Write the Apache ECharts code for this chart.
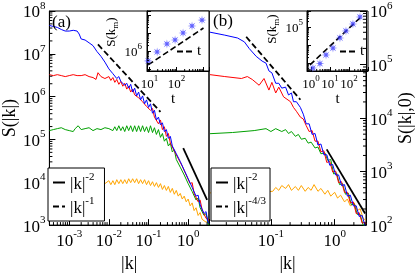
<!DOCTYPE html>
<html><head><meta charset="utf-8">
<script src="https://cdn.jsdelivr.net/npm/echarts@6/dist/echarts.min.js"></script>
<style>html,body{margin:0;padding:0;background:#fff}#c{width:416px;height:278px}</style>
</head><body><div id="c"></div>
<script>
// ---------------- data (|k|, S) ----------------
const blueA = [[3.16e-4,4.6e7],[3.98e-4,4.35e7],[5.01e-4,4.14e7],[6.31e-4,3.7e7],[7.94e-4,3.4e7],[1.0e-3,3.4e7],[1.26e-3,3.54e7],[1.58e-3,3.4e7],[1.78e-3,2.9e7],[2.0e-3,2.22e7],[2.51e-3,2.1e7],[3.16e-3,1.81e7],[3.98e-3,1.55e7],[5.01e-3,1.13e7],[6.31e-3,8.74e6],[7.94e-3,6.4e6],[0.01,4.45e6],
[0.0112,4.69e6],[0.0126,3.44e6],[0.0141,3.62e6],[0.0158,2.65e6],[0.0178,2.94e6],[0.02,2.27e6],[0.0224,2.52e6],[0.0251,1.84e6],[0.0282,2.05e6],[0.0316,1.58e6],[0.0355,1.94e6],[0.0398,1.28e6],[0.0447,1.58e6],[0.0501,1.04e6],[0.0562,1.28e6],[0.0631,8.4e5],[0.0708,1.04e6],[0.0794,6.8e5],[0.0891,8.4e5],[0.1,5.6e5],
[0.112,6.8e5],[0.126,4.1e5],[0.141,4.8e5],[0.158,2.85e5],[0.178,3.33e5],[0.2,2.2e5],[0.224,2.45e5],[0.251,1.53e5],[0.282,1.7e5],[0.316,1.06e5],[0.355,1.18e5],[0.398,7.05e4],[0.447,7.8e4],[0.501,4.65e4],[0.562,5.1e4],[0.631,3.06e4],[0.708,3.4e4],[0.794,1.92e4],[0.891,2.13e4],[1.0,1.21e4],[1.12,1.34e4],[1.26,7.6e3],[1.41,8.0e3],[1.58,4.75e3],[1.78,5.0e3],[2.0,2.97e3],[2.24,3.3e3],[2.51,1.86e3],[2.82,2.07e3],[3.16,1.17e3],[3.35,1.1e3]];
const redA = [[3.16e-4,3.26e6],[3.98e-4,3.1e6],[5.01e-4,3.26e6],[6.31e-4,3.1e6],[7.94e-4,2.94e6],[1.0e-3,3.1e6],[1.26e-3,3.26e6],[1.41e-3,3.44e6],[1.58e-3,3.1e6],[2.0e-3,3.1e6],[2.51e-3,3.26e6],[3.16e-3,2.94e6],[3.98e-3,2.79e6],[4.73e-3,2.52e6],[5.31e-3,3.62e6],[6.31e-3,2.94e6],[7.94e-3,2.65e6],[0.01,2.94e6],
[0.0112,2.39e6],[0.0126,2.79e6],[0.0141,2.16e6],[0.0158,2.52e6],[0.0178,1.94e6],[0.02,2.27e6],[0.0224,1.75e6],[0.0251,2.05e6],[0.0282,1.5e6],[0.0316,1.75e6],[0.0355,1.28e6],[0.0398,1.5e6],[0.0447,1.1e6],[0.0501,1.22e6],[0.0562,9.4e5],[0.0631,1.04e6],[0.0708,7.6e5],[0.0794,8.4e5],[0.0891,5.9e5],[0.1,6.5e5],
[0.112,4.8e5],[0.126,5.3e5],[0.141,3.33e5],[0.158,3.7e5],[0.178,2.32e5],[0.2,2.85e5],[0.224,1.7e5],[0.251,1.98e5],[0.282,1.18e5],[0.316,1.38e5],[0.355,8.2e4],[0.398,9.1e4],[0.447,5.4e4],[0.501,6.0e4],[0.562,3.58e4],[0.631,3.97e4],[0.708,2.37e4],[0.794,2.5e4],[0.891,1.48e4],[1.0,1.56e4],[1.12,9.3e3],[1.26,9.8e3],[1.41,5.5e3],[1.58,6.1e3],[1.78,3.5e3],[2.0,3.85e3],[2.24,2.3e3],[2.51,2.42e3],[2.82,1.44e3],[3.16,1.52e3],[3.35,1.3e3]];
const greenA = [[3.16e-4,1.61e5],[3.98e-4,1.7e5],[5.01e-4,1.79e5],[6.31e-4,1.88e5],[7.94e-4,1.7e5],[1.0e-3,1.61e5],[1.26e-3,1.53e5],[1.41e-3,1.79e5],[1.68e-3,2.09e5],[2.0e-3,1.7e5],[2.51e-3,1.79e5],[3.16e-3,1.88e5],[3.98e-3,1.61e5],[5.01e-3,1.79e5],[6.31e-3,1.7e5],[7.94e-3,1.88e5],[0.01,1.79e5],
[0.0112,1.98e5],[0.0126,1.61e5],[0.0141,1.98e5],[0.0158,1.61e5],[0.0178,2.09e5],[0.02,1.61e5],[0.0224,1.98e5],[0.0251,1.53e5],[0.0282,2.09e5],[0.0316,1.61e5],[0.0355,2.09e5],[0.0398,1.53e5],[0.0447,2.09e5],[0.0501,1.53e5],[0.0562,2.09e5],[0.0631,1.53e5],[0.0708,2.09e5],[0.0794,1.53e5],[0.0891,1.98e5],[0.1,1.45e5],
[0.112,2.09e5],[0.126,1.45e5],[0.141,1.88e5],[0.158,1.31e5],[0.178,1.7e5],[0.2,1.12e5],[0.224,1.38e5],[0.251,9.1e4],[0.282,1.06e5],[0.316,7.05e4],[0.355,8.2e4],[0.398,5.1e4],[0.447,5.7e4],[0.501,3.4e4],[0.562,3.77e4],[0.631,2.25e4],[0.708,2.5e4],[0.794,1.48e4],[0.891,1.64e4],[1.0,9.3e3],[1.12,1.03e4],[1.26,6.1e3],[1.41,6.45e3],[1.58,3.85e3],[1.78,4.27e3],[2.0,2.54e3],[2.24,2.82e3],[2.51,1.68e3],[2.82,1.86e3],[3.16,1.1e3],[3.35,1.0e3]];
const orangeA = [[3.16e-4,9.3e3],[6.31e-4,9.8e3],[1.26e-3,9.3e3],[2.51e-3,1.03e4],[5.01e-3,9.8e3],[7.94e-3,9.3e3],
[0.01,1.09e4],[0.0112,8.8e3],[0.0126,1.09e4],[0.0141,8.8e3],[0.0158,1.15e4],[0.0178,9.3e3],[0.02,1.15e4],[0.0224,9.3e3],[0.0251,1.15e4],[0.0282,9.3e3],[0.0316,1.21e4],[0.0355,9.8e3],[0.0398,1.21e4],[0.0447,9.8e3],[0.0501,1.21e4],[0.0562,9.3e3],[0.0631,1.15e4],[0.0708,9.3e3],[0.0794,1.15e4],[0.0891,8.8e3],[0.1,1.09e4],
[0.112,8.4e3],[0.126,1.03e4],[0.141,8.0e3],[0.158,9.8e3],[0.178,7.6e3],[0.2,9.3e3],[0.224,6.8e3],[0.251,8.4e3],[0.282,6.45e3],[0.316,8.0e3],[0.355,5.8e3],[0.398,7.2e3],[0.447,5.25e3],[0.501,6.45e3],[0.562,4.75e3],[0.631,5.5e3],[0.708,4.06e3],[0.794,4.75e3],[0.891,3.5e3],[1.0,4.06e3],[1.12,2.82e3],[1.26,3.3e3],[1.41,2.18e3],[1.58,2.54e3],[1.78,1.68e3],[2.0,1.96e3],[2.24,1.37e3],[2.51,1.52e3],[2.82,1.17e3],[3.16,1.23e3]];

const blueB = [[0.0111,4.02e5],[0.0189,3.54e5],[0.030,3.13e5],[0.0384,2.65e5],[0.0459,1.98e5],[0.0588,1.42e5],[0.0727,1.16e5],[0.0838,1.06e5],[0.0931,7.6e4],[0.1036,7.0e4],[0.119,4.46e4],[0.133,4.46e4],[0.148,3.62e4],[0.170,3.78e4],[0.189,2.7e4],[0.210,2.94e4],[0.226,2.02e4],[0.251,2.02e4],[0.290,1.58e4],[0.322,1.18e4],[0.358,7.8e3],[0.398,7.8e3],[0.443,4.94e3],[0.492,5.15e3],[0.547,3.13e3],[0.609,3.27e3],[0.677,2.06e3],[0.753,2.06e3],[0.838,1.31e3],[0.931,1.36e3],[1.036,865],[1.153,865],[1.281,548],[1.425,571],[1.585,348],[1.762,362],[1.96,229],[2.18,229],[2.42,145],[2.70,151],[3.0,96],[3.1,92]];
const redB = [[0.0111,6.47e4],[0.0189,5.96e4],[0.0345,5.48e4],[0.0427,5.96e4],[0.051,5.26e4],[0.0654,4.1e4],[0.078,5.48e4],[0.0931,3.33e4],[0.1036,4.64e4],[0.119,2.94e4],[0.133,3.78e4],[0.158,2.49e4],[0.203,2.02e4],[0.226,1.58e4],[0.251,1.34e4],[0.29,1.04e4],[0.322,9.6e3],[0.358,7.2e3],[0.398,5.6e3],[0.443,5.83e3],[0.492,3.7e3],[0.547,3.7e3],[0.609,2.34e3],[0.677,2.44e3],[0.753,1.48e3],[0.838,1.55e3],[0.931,980],[1.036,1.02e3],[1.153,621],[1.281,647],[1.425,410],[1.585,410],[1.762,259],[1.96,271],[2.18,164],[2.42,171],[2.70,109],[3.0,113],[3.1,105]];
const greenB = [[0.0111,5.1e3],[0.0119,5.15e3],[0.0251,5.37e3],[0.0547,5.83e3],[0.0838,6.34e3],[0.1,5.6e3],[0.119,6.34e3],[0.148,5.6e3],[0.170,6.08e3],[0.189,5.15e3],[0.210,5.6e3],[0.242,4.55e3],[0.27,4.94e3],[0.30,4.02e3],[0.345,4.19e3],[0.384,3.4e3],[0.427,3.55e3],[0.492,2.76e3],[0.547,2.88e3],[0.609,2.15e3],[0.702,2.24e3],[0.78,1.61e3],[0.868,1.68e3],[0.965,902],[1.073,940],[1.194,571],[1.328,596],[1.477,378],[1.642,394],[1.826,239],[2.03,249],[2.26,158],[2.51,158],[2.79,100],[3.0,100]];
const orangeB = [[0.0111,400],[0.03,390],[0.06,410],[0.107,428],[0.119,505],[0.133,446],[0.148,548],[0.170,484],[0.189,571],[0.210,446],[0.242,526],[0.27,446],[0.30,548],[0.345,428],[0.384,505],[0.427,446],[0.475,571],[0.547,428],[0.609,484],[0.702,378],[0.78,446],[0.868,348],[1.0,410],[1.11,320],[1.24,362],[1.43,271],[1.58,307],[1.76,229],[2.03,259],[2.26,186],[2.51,202],[2.79,134],[3.08,123]];

// reference power laws (end points)
const slopeA2 = [[0.75,6.3e4],[3.0,3.9e3]];
const slopeA1 = [[5.3e-3,1.66e7],[0.2,4.4e5]];
const slopeB2 = [[0.75,2.6e3],[3.0,1.65e2]];
const slopeB43 = [[0.041,3.3e5],[0.29,2.2e4]];

// insets: S(k_m) vs t
const insetA = [[8.8,2.8e5],[19,8.8e5],[44,2.45e6],[88,4.1e6],[174,1.0e7],[375,2.45e7],[880,5.2e7]];
const insetALine = [[8.8,1.67e5],[1000,1.9e7]];
const insetB = [[1.27,527],[2.98,937],[6.2,2.8e3],[14.4,6.8e3],[33.6,2.45e4],[69.5,6.0e4],[162,1.47e5],[380,3.6e5]];
const insetBLine = [[0.886,780],[380,3.2e5]];

// tick label exponents shown
const expAx = [-3,-2,-1,0], expAy = [3,4,5,6,7,8];
const expBx = [-1,0], expBy = [2,3,4,5,6];
const expIAx = [1,2], expIAy = [6], expIBx = [0,1,2], expIBy = [5];

const legendText = {k2a:['|k|','-2'], k1a:['|k|','-1'], k2b:['|k|','-2'], k43b:['|k|','-4/3']};

// ---------------- chart ----------------
const FONT = "'Liberation Serif','DejaVu Serif',serif";
const chart = echarts.init(document.getElementById('c'), null, {renderer:'canvas'});

function richMain(sz, ssz){
  return { b:{fontFamily:FONT,fontSize:sz,color:'#000',lineHeight:sz+4,verticalAlign:'bottom'},
           s:{fontFamily:FONT,fontSize:ssz,color:'#000',lineHeight:ssz+1,verticalAlign:'top'} };
}
function fmt(allowed){
  return function(v){
    const e = Math.log10(v), n = Math.round(e);
    if (Math.abs(e-n) > 1e-6 || allowed.indexOf(n) < 0) return '';
    return '{b|10}{s|' + n + '}';
  };
}
function logAxis(o){
  return {
    type:'log', logBase:10, gridIndex:o.g, min:o.min, max:o.max, position:o.pos,
    axisLine:{show:true, onZero:false, lineStyle:{color:'#000', width:1}},
    axisTick:{show:true, inside:true, length:o.tl, lineStyle:{color:'#000', width:1}},
    minorTick:{show:false}, splitLine:{show:false},
    axisLabel:{margin:o.m, formatter:fmt(o.exp), rich:o.rich, showMinLabel:true, showMaxLabel:true},
    name:o.name||'', nameLocation:'middle', nameGap:o.ng||0, nameRotate:o.nr||0,
    nameTextStyle:Object.assign({fontFamily:FONT, fontSize:o.nfs||18, color:'#000'}, o.nts||{})
  };
}
function minorVals(lo, hi){
  const out=[];
  for(let e=Math.floor(Math.log10(lo)); e<=Math.ceil(Math.log10(hi)); e++)
    for(let d=2; d<=9; d++){ const v=d*Math.pow(10,e); if(v>lo*1.0001 && v<hi*0.9999) out.push(v); }
  return out;
}
function minorSeries(xi, yi, vals, fixed, isX, dx, dy){
  return { type:'custom', xAxisIndex:xi, yAxisIndex:yi, silent:true, z:6, clip:false,
    data: vals.map(v => isX ? [v, fixed] : [fixed, v]),
    renderItem: function(params, api){
      const p = api.coord([api.value(0), api.value(1)]);
      return {type:'line', shape:{x1:p[0], y1:p[1], x2:p[0]+dx, y2:p[1]+dy}, style:{stroke:'#000', lineWidth:1}};
    } };
}
function lineS(name, xi, yi, data, color, width, dash, z){
  return { type:'line', name:name, xAxisIndex:xi, yAxisIndex:yi, data:data, symbol:'none', showSymbol:false,
    lineStyle:{color:color, width:width, type:dash||'solid'}, itemStyle:{color:color}, z:z||2,
    emphasis:{disabled:true}, animation:false, clip:true };
}
function starPath(){
  let d='';
  for(let i=0;i<16;i++){ const a=i*Math.PI/8-Math.PI/2, r=(i%2===0)?10:3.3;
    d += (i===0?'M':'L') + (10+r*Math.cos(a)).toFixed(2) + ' ' + (10+r*Math.sin(a)).toFixed(2) + ' '; }
  return 'path://' + d + 'Z';
}

const ax = {ga:{min:3.16e-4,max:3.35}, gay:{min:1e3,max:1e8}, gb:{min:0.0107,max:3.1}, gby:{min:1e2,max:1e6},
            ia:{min:8,max:1600}, iay:{min:7.7e4,max:1.67e8}, ib:{min:0.62,max:1000}, iby:{min:360,max:7.7e5}};
const R = richMain(17, 11), RI = richMain(13, 9);
const legRich = {b:{fontFamily:FONT,fontSize:17,color:'#000',lineHeight:21,verticalAlign:'bottom'},
                 s:{fontFamily:FONT,fontSize:11,color:'#000',lineHeight:12,verticalAlign:'top'}};
const legFmt = n => '{b|' + legendText[n][0] + '}{s|' + legendText[n][1] + '}';
const dash = [6,3];
const noSym = {opacity:0};

const option = {
  animation:false,
  backgroundColor:'#fff',
  grid:[
    {left:48, top:11, width:161, height:224, show:true, borderColor:'#000', borderWidth:1, backgroundColor:'transparent'},
    {left:209, top:11, width:160, height:224, show:true, borderColor:'#000', borderWidth:1, backgroundColor:'transparent'},
    {left:147, top:11, width:62, height:60, show:true, borderColor:'#000', borderWidth:1, backgroundColor:'#fff'},
    {left:307, top:11, width:61, height:60, show:true, borderColor:'#000', borderWidth:1, backgroundColor:'#fff'}
  ],
  xAxis:[
    logAxis({g:0, min:ax.ga.min, max:ax.ga.max, pos:'bottom', tl:6, m:4, exp:expAx, rich:R, name:'|k|', ng:23}),
    logAxis({g:1, min:ax.gb.min, max:ax.gb.max, pos:'bottom', tl:6, m:4, exp:expBx, rich:R, name:'|k|', ng:23}),
    logAxis({g:2, min:ax.ia.min, max:ax.ia.max, pos:'bottom', tl:4, m:3, exp:expIAx, rich:RI, name:'t', ng:11, nfs:15, nts:{padding:[0,10,0,0]}}),
    logAxis({g:3, min:ax.ib.min, max:ax.ib.max, pos:'bottom', tl:4, m:3, exp:expIBx, rich:RI, name:'t', ng:11, nfs:15})
  ],
  yAxis:[
    logAxis({g:0, min:ax.gay.min, max:ax.gay.max, pos:'left', tl:6, m:4, exp:expAy, rich:R, name:'S(|k|)', ng:30, nr:90}),
    logAxis({g:1, min:ax.gby.min, max:ax.gby.max, pos:'right', tl:6, m:4, exp:expBy, rich:R, name:'S(|k|,0)', ng:31, nr:90}),
    logAxis({g:2, min:ax.iay.min, max:ax.iay.max, pos:'left', tl:4, m:5, exp:expIAy, rich:RI, name:'{n|S(k}{m|m}{n|)}', ng:13, nr:90,
      nts:{padding:[0,0,0,18], rich:{n:{fontFamily:FONT,fontSize:13,color:'#000'}, m:{fontFamily:FONT,fontSize:9,color:'#000',verticalAlign:'bottom',lineHeight:18}}}}),
    logAxis({g:3, min:ax.iby.min, max:ax.iby.max, pos:'left', tl:4, m:4, exp:expIBy, rich:RI, name:'{n|S(k}{m|m}{n|)}', ng:21, nr:90,
      nts:{padding:[0,0,0,24], rich:{n:{fontFamily:FONT,fontSize:13,color:'#000'}, m:{fontFamily:FONT,fontSize:9,color:'#000',verticalAlign:'bottom',lineHeight:18}}}})
  ],
  legend:[
    {orient:'vertical', left:48, top:168, data:['k2a','k1a'], itemWidth:12, itemHeight:10, itemGap:3, padding:[4,10,4,4],
     borderColor:'#000', borderWidth:1, backgroundColor:'#fff', selectedMode:false, formatter:legFmt, textStyle:{rich:legRich}, itemStyle:noSym, z:10},
    {orient:'vertical', left:211, top:168, data:['k2b','k43b'], itemWidth:12, itemHeight:10, itemGap:3, padding:[4,4,4,4],
     borderColor:'#000', borderWidth:1, backgroundColor:'#fff', selectedMode:false, formatter:legFmt, textStyle:{rich:legRich}, itemStyle:noSym, z:10},
    {left:176, top:44, data:['ta'], itemWidth:15, itemHeight:8, padding:0, selectedMode:false, formatter:()=>'t',
     textStyle:{fontFamily:FONT, fontSize:15, color:'#000'}, itemStyle:noSym, z:10},
    {left:339, top:44, data:['tb'], itemWidth:15, itemHeight:8, padding:0, selectedMode:false, formatter:()=>'t',
     textStyle:{fontFamily:FONT, fontSize:15, color:'#000'}, itemStyle:noSym, z:10}
  ],
  graphic:[
    {type:'text', left:52, top:14, z:20, style:{text:'(a)', font:'17px ' + FONT, fill:'#000'}},
    {type:'text', left:213, top:13, z:20, style:{text:'(b)', font:'17px ' + FONT, fill:'#000'}}
  ],
  series:[
    lineS('oa',0,0,orangeA,'#ffa500',1), lineS('ga',0,0,greenA,'#00a000',1), lineS('ra',0,0,redA,'#ff0000',1), lineS('ba',0,0,blueA,'#0000ff',1),
    lineS('ob',1,1,orangeB,'#ffa500',1), lineS('gb',1,1,greenB,'#00a000',1), lineS('rb',1,1,redB,'#ff0000',1), lineS('bb',1,1,blueB,'#0000ff',1),
    lineS('k2a',0,0,slopeA2,'#000',1.8,'solid',4), lineS('k1a',0,0,slopeA1,'#000',1.8,dash,4),
    lineS('k2b',1,1,slopeB2,'#000',1.8,'solid',4), lineS('k43b',1,1,slopeB43,'#000',1.8,dash,4),
    lineS('ta',2,2,insetALine,'#000',1.6,dash,3), lineS('tb',3,3,insetBLine,'#000',1.6,dash,3),
    {type:'scatter', xAxisIndex:2, yAxisIndex:2, data:insetA, symbol:starPath(), symbolSize:9, itemStyle:{color:'#3b3bff'}, z:5, clip:false},
    {type:'scatter', xAxisIndex:3, yAxisIndex:3, data:insetB, symbol:starPath(), symbolSize:9, itemStyle:{color:'#3b3bff'}, z:5, clip:false},
    minorSeries(0,0,minorVals(ax.ga.min,ax.ga.max),ax.gay.min,true,0,-3),
    minorSeries(0,0,minorVals(ax.gay.min,ax.gay.max),ax.ga.min,false,3,0),
    minorSeries(1,1,minorVals(ax.gb.min,ax.gb.max),ax.gby.min,true,0,-3),
    minorSeries(1,1,minorVals(ax.gby.min,ax.gby.max),ax.gb.max,false,-3,0),
    minorSeries(2,2,minorVals(ax.ia.min,ax.ia.max),ax.iay.min,true,0,-2),
    minorSeries(2,2,minorVals(ax.iay.min,ax.iay.max),ax.ia.min,false,2,0),
    minorSeries(3,3,minorVals(ax.ib.min,ax.ib.max),ax.iby.min,true,0,-2),
    minorSeries(3,3,minorVals(ax.iby.min,ax.iby.max),ax.ib.min,false,2,0)
  ]
};
chart.setOption(option);
</script></body></html>
